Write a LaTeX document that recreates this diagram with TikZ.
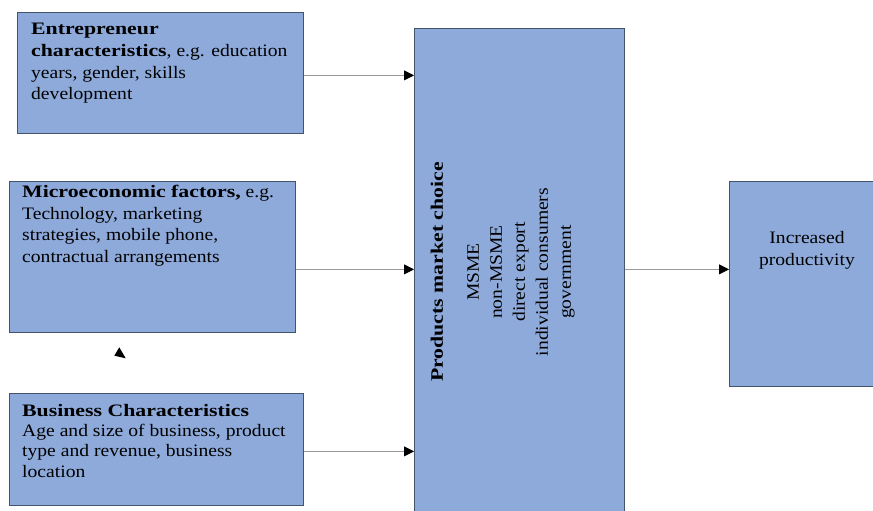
\documentclass[tikz,border=0pt]{standalone}
\usepackage{fontspec}
\setmainfont{Liberation Serif}[FakeStretch=1.12, BoldFont={Liberation Serif Bold}, BoldFeatures={FakeStretch=1.245}]
\usetikzlibrary{arrows.meta}
\definecolor{boxfill}{HTML}{8EAADB}
\definecolor{boxline}{HTML}{44546A}
\definecolor{arrline}{HTML}{9A9A9A}
\begin{document}
\begin{tikzpicture}[x=1pt,y=-1pt,
  box/.style={draw=boxline, line width=0.75pt, fill=boxfill, inner sep=0pt, anchor=north west},
  txt/.style={inner sep=0pt, anchor=north west, align=left, font=\fontsize{17.5}{21.7}\selectfont},
  arr/.style={draw=arrline, line width=0.8pt, -{Triangle[length=10pt,width=10pt,color=black,fill=black]}}]
\useasboundingbox (0,0) rectangle (873,511);
\node[box, minimum width=286pt, minimum height=121pt] (b1) at (17,12) {};
\node[box, minimum width=286pt, minimum height=151pt] (b2) at (9,181) {};
\node[box, minimum width=294pt, minimum height=112pt] (b3) at (9,393) {};
\node[box, minimum width=210pt, minimum height=490pt] (c) at (414,28) {};
\node[box, minimum width=160pt, minimum height=205pt] (r) at (729,181) {};
\node[txt] (t1) at (31,23) {\textbf{Entrepreneur}\\\textbf{characteristics}, e.g. education\\years, gender, skills\\development};
\node[txt] (t2) at (22,185) {\textbf{Microeconomic factors,} e.g.\\Technology, marketing\\strategies, mobile phone,\\contractual arrangements};
\node[txt, font=\fontsize{17.5}{20.3}\selectfont] (t3) at (22,404) {\textbf{Business Characteristics}\\Age and size of business, product\\type and revenue, business\\location};
\node[align=center, inner sep=0pt, font=\fontsize{17.5}{21.7}\selectfont] (t5) at (807,250) {Increased\\productivity};
\node[rotate=90, inner sep=0pt, font=\bfseries\fontsize{17.5}{20}\selectfont] (ct) at (437,272) {Products market choice};
\node[rotate=90, align=center, inner sep=0pt, font=\fontsize{17.5}{23}\selectfont] (cl) at (521,272) {MSME\\non-MSME\\direct export\\individual consumers\\government};
\draw[arr] ([yshift=-2.5pt]b1.east) -- ([yshift=-2.5pt]b1.east -| c.west);
\draw[arr] ([yshift=-12.5pt]b2.east) -- ([yshift=-12.5pt]b2.east -| c.west);
\draw[arr] ([yshift=-2pt]b3.east) -- ([yshift=-2pt]b3.east -| c.west);
\draw[arr] ([yshift=4pt]c.east) -- ([yshift=4pt]c.east -| r.west);
\fill (119.3,347.3) -- (114.3,355.7) -- (125.7,358.3) -- cycle;
\end{tikzpicture}
\end{document}
